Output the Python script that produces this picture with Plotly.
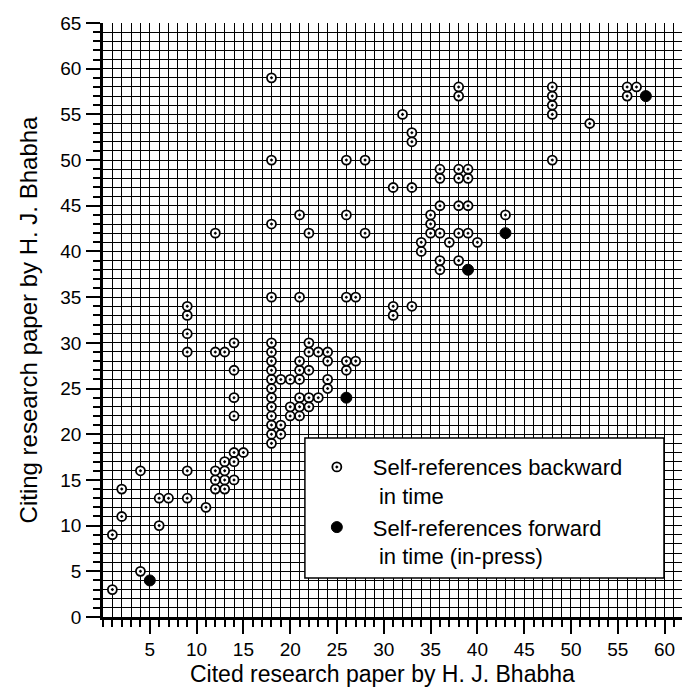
import plotly.graph_objects as go

# Self-references backward in time (open circles)
back_x = [1, 1, 2, 2, 4, 4, 6, 6, 7,
          9, 9, 9, 9, 9, 9,
          11,
          12, 12, 12, 12, 12,
          13, 13, 13, 13, 13,
          14, 14, 14, 14, 14, 14, 14,
          15,
          18, 18, 18, 18, 18, 18, 18, 18, 18, 18, 18, 18, 18, 18, 18, 18,
          19, 19, 19,
          20, 20, 20,
          21, 21, 21, 21, 21, 21, 21, 21,
          22, 22, 22, 22, 22, 22,
          23, 23,
          24, 24, 24, 24,
          26, 26, 26, 26, 26,
          27, 27,
          28, 28,
          31, 31, 31,
          32,
          33, 33, 33, 33,
          34, 34,
          35, 35, 35,
          36, 36, 36, 36, 36, 36,
          37,
          38, 38, 38, 38, 38, 38, 38,
          39, 39, 39, 39,
          40,
          43,
          48, 48, 48, 48, 48,
          52,
          56, 56, 57]
back_y = [3, 9, 11, 14, 5, 16, 10, 13, 13,
          13, 16, 29, 31, 33, 34,
          12,
          14, 15, 16, 29, 42,
          14, 15, 16, 17, 29,
          15, 17, 18, 22, 24, 27, 30,
          18,
          19, 20, 21, 22, 23, 24, 25, 26, 27, 28, 29, 30, 35, 43, 50, 59,
          20, 21, 26,
          22, 23, 26,
          22, 23, 24, 26, 27, 28, 35, 44,
          23, 24, 27, 29, 30, 42,
          24, 29,
          25, 26, 28, 29,
          27, 28, 35, 44, 50,
          28, 35,
          42, 50,
          33, 34, 47,
          55,
          34, 47, 52, 53,
          40, 41,
          42, 43, 44,
          38, 39, 42, 45, 48, 49,
          41,
          39, 42, 45, 48, 49, 57, 58,
          42, 45, 48, 49,
          41,
          44,
          50, 55, 56, 57, 58,
          54,
          57, 58, 58]

# Self-references forward in time (in-press) (filled circles)
fwd_x = [5, 26, 39, 43, 58]
fwd_y = [4, 24, 38, 42, 57]

x_tick_vals = [5, 10, 15, 20, 25, 30, 35, 40, 45, 50, 55, 60]
y_tick_vals = [0, 5, 10, 15, 20, 25, 30, 35, 40, 45, 50, 55, 60, 65]

FONT = "Liberation Sans, Arial, Helvetica, sans-serif"

fig = go.Figure()
fig.add_trace(go.Scatter(
    x=back_x, y=back_y, mode="markers",
    name="Self-references backward<br>\u00a0in time",
    marker=dict(symbol="circle-dot", size=9, color="white",
                line=dict(color="black", width=1.8)),
))
fig.add_trace(go.Scatter(
    x=fwd_x, y=fwd_y, mode="markers",
    name="Self-references forward<br>\u00a0in time (in-press)",
    marker=dict(symbol="circle", size=11, color="black",
                line=dict(color="black", width=1)),
))

axis_common = dict(
    showline=True, linecolor="black", linewidth=2.5,
    ticks="outside", ticklen=14, tickwidth=2, tickcolor="black",
    showgrid=True, gridcolor="black", gridwidth=1,
    zeroline=False,
    tickfont=dict(family=FONT, size=19, color="black"),
    minor=dict(dtick=1, ticks="outside", ticklen=7, tickwidth=2,
               tickcolor="black", showgrid=True, gridcolor="black",
               gridwidth=1),
)

fig.update_xaxes(
    range=[0, 61.86], tickmode="array", tickvals=x_tick_vals,
    ticktext=[str(v) for v in x_tick_vals],
    ticklabelstandoff=-1,
    **axis_common,
)
fig.update_yaxes(
    range=[0, 65], tickmode="array", tickvals=y_tick_vals,
    ticktext=[str(v) for v in y_tick_vals],
    title=dict(text="Citing research paper by H. J. Bhabha",
               font=dict(family=FONT, size=24, color="black"), standoff=16),
    ticklabelstandoff=1,
    **axis_common,
)

# x-axis title (placed slightly left of the plot centre, as in the original)
fig.add_annotation(text="Cited research paper by H. J. Bhabha",
                   xref="paper", yref="paper", x=0.482, y=0,
                   xanchor="center", yanchor="middle", yshift=-57,
                   showarrow=False,
                   font=dict(family=FONT, size=23, color="black"))

fig.add_shape(type="rect", xref="paper", yref="paper",
              x0=0.3487, x1=0.9689, y0=0.0656, y1=0.3012,
              fillcolor="white", line=dict(color="black", width=1.5),
              layer="above")

fig.update_layout(
    width=682, height=687,
    margin=dict(l=103, r=0, t=23, b=70),
    paper_bgcolor="white", plot_bgcolor="white",
    font=dict(family=FONT, color="black"),
    showlegend=True,
    legend=dict(x=0.3417, y=0.2877, xanchor="left", yanchor="top",
                bgcolor="rgba(0,0,0,0)", borderwidth=0,
                itemwidth=62, valign="top",
                font=dict(family=FONT, size=22, color="black")),
)

fig.write_html("out.html",
               config={"displayModeBar": False},
               post_script="document.body.style.margin='0';"
                           "document.body.style.overflow='hidden';")
